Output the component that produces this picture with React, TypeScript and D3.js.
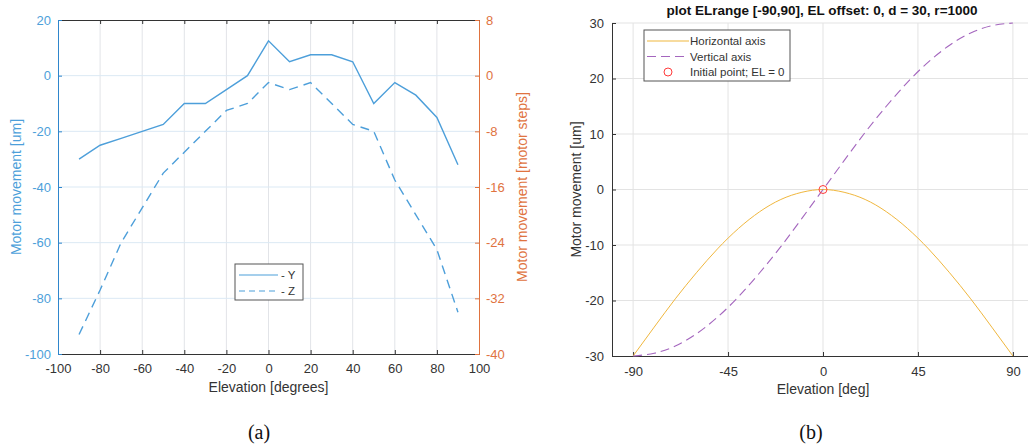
import React, { useEffect, useRef } from 'react';
import * as d3 from 'd3';

// panel (a): measured motor movement vs elevation
const elevA = [-90, -80, -70, -60, -50, -40, -30, -20, -10, 0, 10, 20, 30, 40, 50, 60, 70, 80, 90];
const moveY = [-30, -25, -22.5, -20, -17.5, -10, -10, -5, 0, 12.5, 5, 7.5, 7.5, 5, -10, -2.5, -7, -15, -32];
const moveZ = [-93, -77, -60, -47.5, -35, -27.5, -20, -12.5, -10, -2.5, -5, -2.5, -10, -17.5, -20, -37.5, -50, -62.5, -85];
const xTicksA = [-100, -80, -60, -40, -20, 0, 20, 40, 60, 80, 100];
const yTicksA = [-100, -80, -60, -40, -20, 0, 20];
const yTicksSteps = [-40, -32, -24, -16, -8, 0, 8];

// panel (b): modelled movement, values read every 10 deg
const elevB = [-90, -80, -70, -60, -50, -40, -30, -20, -10, 0, 10, 20, 30, 40, 50, 60, 70, 80, 90];
const horiz = [-30, -24.8, -19.7, -15, -10.7, -7, -4, -1.8, -0.5, 0, -0.5, -1.8, -4, -7, -10.7, -15, -19.7, -24.8, -30];
const vert = [-30, -29.5, -28.2, -26, -23, -19.3, -15, -10.3, -5.2, 0, 5.2, 10.3, 15, 19.3, 23, 26, 28.2, 29.5, 30];
const xTicksB = [-90, -45, 0, 45, 90];
const yTicksB = [-30, -20, -10, 0, 10, 20, 30];

const FONT = 'Liberation Sans, Arial, sans-serif';
const BLUE_AX = '#2f86cc';
const BLUE_LN = '#4d9fda';
const ORANGE = '#e0733f';
const DARK = '#333333';
const fmt = d => String(d); // plain hyphen minus like the original

const App = () => {
  const svgRef = useRef(null);

  useEffect(() => {
    const svg = d3.select(svgRef.current);
    svg.selectAll('*').remove();

    // ---------- panel (a) ----------
    const a = { left: 58, right: 479, top: 20, bottom: 354 };
    const xA = d3.scaleLinear().domain([-100, 100]).range([a.left, a.right]);
    const yA = d3.scaleLinear().domain([-100, 20]).range([a.bottom, a.top]);
    const yS = d3.scaleLinear().domain([-40, 8]).range([a.bottom, a.top]);
    const gA = svg.append('g');

    // grid
    gA.selectAll('.vgrid')
      .data(xTicksA.slice(1, -1))
      .enter()
      .append('line')
      .attr('x1', d => xA(d)).attr('x2', d => xA(d))
      .attr('y1', a.top).attr('y2', a.bottom)
      .attr('stroke', '#e2e4e8').attr('stroke-width', 1);
    gA.selectAll('.hgrid')
      .data(yTicksA.slice(1, -1))
      .enter()
      .append('line')
      .attr('x1', a.left).attr('x2', a.right)
      .attr('y1', d => yA(d)).attr('y2', d => yA(d))
      .attr('stroke', '#dbe9f4').attr('stroke-width', 1);

    // axes
    gA.append('g')
      .attr('transform', `translate(0, ${a.bottom})`)
      .call(d3.axisBottom(xA).tickValues(xTicksA).tickSize(-4).tickPadding(10).tickFormat(fmt))
      .call(g => g.selectAll('.tick text').attr('fill', DARK).attr('font-size', 13).attr('font-family', FONT))
      .call(g => g.selectAll('line, path').attr('stroke', DARK));
    gA.append('g')
      .attr('transform', `translate(0, ${a.top})`)
      .call(d3.axisTop(xA).tickValues(xTicksA).tickSize(-4).tickFormat(() => ''))
      .call(g => g.selectAll('line, path').attr('stroke', DARK));
    gA.append('g')
      .attr('transform', `translate(${a.left}, 0)`)
      .call(d3.axisLeft(yA).tickValues(yTicksA).tickSize(-4).tickPadding(7).tickFormat(fmt))
      .call(g => g.selectAll('.tick text').attr('fill', BLUE_LN).attr('font-size', 13).attr('font-family', FONT))
      .call(g => g.selectAll('line, path').attr('stroke', BLUE_AX));
    gA.append('g')
      .attr('transform', `translate(${a.right}, 0)`)
      .call(d3.axisRight(yS).tickValues(yTicksSteps).tickSize(-4).tickPadding(7).tickFormat(fmt))
      .call(g => g.selectAll('.tick text').attr('fill', ORANGE).attr('font-size', 13).attr('font-family', FONT))
      .call(g => g.selectAll('line, path').attr('stroke', ORANGE));

    const lineA = d3.line().x(d => xA(d[0])).y(d => yA(d[1]));
    gA.append('path')
      .datum(elevA.map((e, i) => [e, moveY[i]]))
      .attr('fill', 'none').attr('stroke', BLUE_LN).attr('stroke-width', 1.4)
      .attr('d', lineA);
    gA.append('path')
      .datum(elevA.map((e, i) => [e, moveZ[i]]))
      .attr('fill', 'none').attr('stroke', BLUE_LN).attr('stroke-width', 1.4)
      .attr('stroke-dasharray', '9,6')
      .attr('d', lineA);

    // labels
    gA.append('text')
      .attr('x', (a.left + a.right) / 2).attr('y', 392)
      .attr('text-anchor', 'middle').attr('font-size', 14).attr('font-family', FONT).attr('fill', DARK)
      .text('Elevation [degrees]');
    gA.append('text')
      .attr('transform', `translate(21, ${(a.top + a.bottom) / 2}) rotate(-90)`)
      .attr('text-anchor', 'middle').attr('font-size', 14).attr('font-family', FONT).attr('fill', BLUE_LN)
      .text('Motor movement [um]');
    gA.append('text')
      .attr('transform', `translate(527, ${(a.top + a.bottom) / 2}) rotate(-90)`)
      .attr('text-anchor', 'middle').attr('font-size', 14).attr('font-family', FONT).attr('fill', ORANGE)
      .text('Motor movement [motor steps]');

    // legend
    const legA = gA.append('g').attr('transform', 'translate(235, 264)');
    legA.append('rect').attr('width', 68).attr('height', 36)
      .attr('fill', 'white').attr('stroke', '#555').attr('stroke-width', 1);
    [['- Y', null], ['- Z', '6,4']].forEach(([label, dash], i) => {
      const yy = 11 + i * 16;
      legA.append('line').attr('x1', 4).attr('x2', 43).attr('y1', yy).attr('y2', yy)
        .attr('stroke', BLUE_LN).attr('stroke-width', 1.2).attr('stroke-dasharray', dash);
      legA.append('text').attr('x', 46).attr('y', yy + 4)
        .attr('font-size', 11.5).attr('font-family', FONT).attr('fill', DARK).text(label);
    });

    svg.append('text')
      .attr('x', 259).attr('y', 439)
      .attr('text-anchor', 'middle').attr('font-size', 20).attr('font-family', 'Liberation Serif, serif')
      .attr('fill', '#111').text('(a)');

    // ---------- panel (b) ----------
    const b = { left: 612, right: 1034, top: 23, bottom: 356 };
    const xB = d3.scaleLinear().domain([-100, 100]).range([b.left, b.right]);
    const yB = d3.scaleLinear().domain([-30, 30]).range([b.bottom, b.top]);
    const gB = svg.append('g');

    gB.selectAll('.vgrid')
      .data(xTicksB)
      .enter()
      .append('line')
      .attr('x1', d => xB(d)).attr('x2', d => xB(d))
      .attr('y1', b.top).attr('y2', b.bottom)
      .attr('stroke', '#e3e3e3').attr('stroke-width', 1);
    gB.selectAll('.hgrid')
      .data(yTicksB.slice(1))
      .enter()
      .append('line')
      .attr('x1', b.left).attr('x2', b.right)
      .attr('y1', d => yB(d)).attr('y2', d => yB(d))
      .attr('stroke', '#e3e3e3').attr('stroke-width', 1);

    gB.append('g')
      .attr('transform', `translate(0, ${b.bottom})`)
      .call(d3.axisBottom(xB).tickValues(xTicksB).tickSize(-4).tickPadding(11).tickFormat(fmt))
      .call(g => g.selectAll('.tick text').attr('fill', DARK).attr('font-size', 13).attr('font-family', FONT))
      .call(g => g.selectAll('line, path').attr('stroke', DARK));
    gB.append('g')
      .attr('transform', `translate(${b.left}, 0)`)
      .call(d3.axisLeft(yB).tickValues(yTicksB).tickSize(-4).tickPadding(8).tickFormat(fmt))
      .call(g => g.selectAll('.tick text').attr('fill', DARK).attr('font-size', 13).attr('font-family', FONT))
      .call(g => g.selectAll('line, path').attr('stroke', DARK));

    const lineB = d3.line().x(d => xB(d[0])).y(d => yB(d[1])).curve(d3.curveNatural);
    gB.append('path')
      .datum(elevB.map((e, i) => [e, horiz[i]]))
      .attr('fill', 'none').attr('stroke', '#f0b73e').attr('stroke-width', 1)
      .attr('d', lineB);
    gB.append('path')
      .datum(elevB.map((e, i) => [e, vert[i]]))
      .attr('fill', 'none').attr('stroke', '#a466be').attr('stroke-width', 1.1)
      .attr('stroke-dasharray', '9,5')
      .attr('d', lineB);
    gB.append('circle')
      .attr('cx', xB(0)).attr('cy', yB(0)).attr('r', 4)
      .attr('fill', 'none').attr('stroke', '#ff3b3b').attr('stroke-width', 1);

    gB.append('text')
      .attr('x', 822).attr('y', 15)
      .attr('text-anchor', 'middle').attr('font-size', 13.5).attr('font-weight', 'bold')
      .attr('font-family', FONT).attr('fill', '#111')
      .text('plot ELrange [-90,90], EL offset: 0, d = 30, r=1000');
    gB.append('text')
      .attr('x', xB(0)).attr('y', 394)
      .attr('text-anchor', 'middle').attr('font-size', 14).attr('font-family', FONT).attr('fill', DARK)
      .text('Elevation [deg]');
    gB.append('text')
      .attr('transform', `translate(581, ${(b.top + b.bottom) / 2}) rotate(-90)`)
      .attr('text-anchor', 'middle').attr('font-size', 14).attr('font-family', FONT).attr('fill', DARK)
      .text('Motor movement [um]');

    const legB = gB.append('g').attr('transform', 'translate(644, 30)');
    legB.append('rect').attr('width', 146).attr('height', 51)
      .attr('fill', 'white').attr('stroke', '#555').attr('stroke-width', 1);
    const items = [
      ['Horizontal axis', '#f0b73e', null],
      ['Vertical axis', '#a466be', '9,5'],
      ['Initial point; EL = 0', '#ff3b3b', 'circle'],
    ];
    items.forEach(([label, color, kind], i) => {
      const yy = 11 + i * 15.5;
      if (kind === 'circle') {
        legB.append('circle').attr('cx', 24).attr('cy', yy).attr('r', 4)
          .attr('fill', 'none').attr('stroke', color).attr('stroke-width', 1);
      } else {
        legB.append('line').attr('x1', 3).attr('x2', 45).attr('y1', yy).attr('y2', yy)
          .attr('stroke', color).attr('stroke-width', 1.1).attr('stroke-dasharray', kind);
      }
      legB.append('text').attr('x', 46).attr('y', yy + 4)
        .attr('font-size', 11.5).attr('font-family', FONT).attr('fill', DARK).text(label);
    });

    svg.append('text')
      .attr('x', 811).attr('y', 439)
      .attr('text-anchor', 'middle').attr('font-size', 20).attr('font-family', 'Liberation Serif, serif')
      .attr('fill', '#111').text('(b)');
  }, []);

  return (
    <svg ref={svgRef} width="1028" height="446"
      style={{ position: 'absolute', left: 0, top: 0, background: 'white' }} />
  );
};

export default App;
